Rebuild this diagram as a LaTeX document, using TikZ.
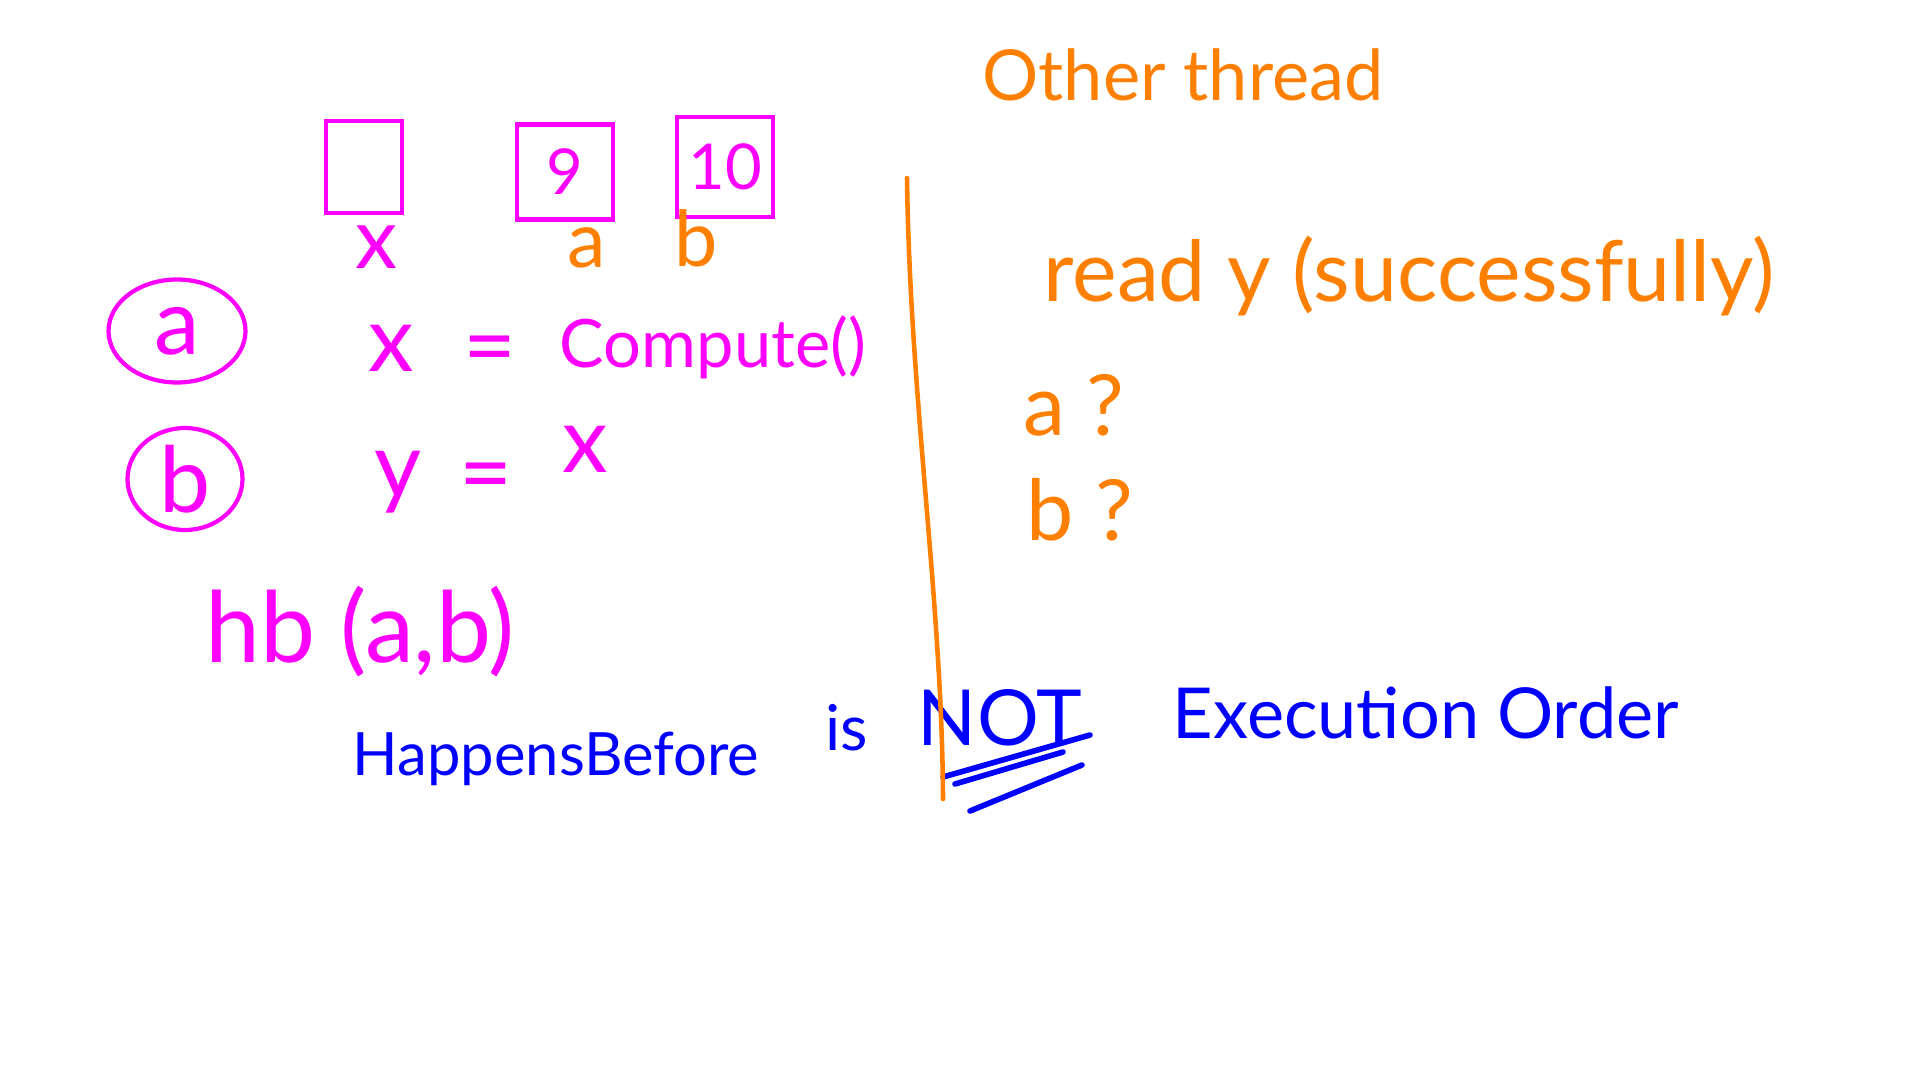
\documentclass[tikz,border=0pt]{standalone}
\usepackage{fontspec}
\setmainfont{Lato}
\usetikzlibrary{positioning, shapes.geometric}

\definecolor{inkpink}{RGB}{255,0,255}
\definecolor{inkorange}{RGB}{255,128,0}
\definecolor{inkblue}{RGB}{0,0,255}

\tikzset{
  fsize/.style={font=\fontsize{#1pt}{#1pt}\selectfont},
  pinkink/.style={text=inkpink, inner sep=0pt},
  orangeink/.style={text=inkorange, inner sep=0pt},
  blueink/.style={text=inkblue, inner sep=0pt},
  cell/.style={rectangle, draw=inkpink, text=inkpink, line width=1.2pt,
    minimum width=0.96cm, minimum height=0.95cm, inner sep=0pt, fsize=18},
  circled/.style={ellipse, draw=inkpink, text=inkpink, line width=1.2pt,
    inner sep=0pt, fsize=26},
  divider/.style={draw=inkorange, line width=1.3pt, line cap=round},
  underline/.style={draw=inkblue, line width=1.6pt, line cap=round}
}

\begin{document}
\begin{tikzpicture}[node distance=0.8cm]
  \fill[white] (0,0) rectangle (19.2,-10.8);
  \useasboundingbox (0,0) rectangle (19.2,-10.8);

  % memory cells
  \node (xbox) [cell, minimum width=0.76cm, minimum height=0.92cm] at (3.64,-1.67) {};
  \node (abox) [cell] at (5.65,-1.72) {9};
  \node (bbox) [cell, minimum height=1.0cm] at (7.25,-1.67) {10};
  \node (xlab) [pinkink, fsize=24, below of=xbox, xshift=0.12cm] {x};
  \node (alab) [orangeink, fsize=22, below of=abox, xshift=0.22cm, yshift=0.04cm] {a};
  \node (blab) [orangeink, fsize=22, below of=bbox, xshift=-0.29cm, yshift=0.09cm] {b};

  % this thread
  \node (opa) [circled, minimum width=1.37cm, minimum height=1.03cm] at (1.77,-3.31) {a};
  \node (opb) [circled, minimum width=1.15cm, minimum height=1.02cm] at (1.85,-4.79) {b};
  \node (xvar) [pinkink, fsize=26, anchor=base] at (3.91,-3.72) {x};
  \node (eqa) [pinkink, fsize=26, anchor=base] at (4.90,-3.77) {=};
  \node (compute) [pinkink, fsize=19, anchor=base] at (7.13,-3.68) {Compute()};
  \node (yvar) [pinkink, fsize=26, anchor=base] at (3.98,-4.97) {y};
  \node (eqb) [pinkink, fsize=26, anchor=base] at (4.86,-5.04) {=};
  \node (xval) [pinkink, fsize=26, anchor=base] at (5.85,-4.73) {x};
  \node (hb) [pinkink, fsize=28, anchor=base] at (3.60,-6.62) {hb (a,b)};

  % other thread
  \node (other) [orangeink, fsize=20] at (11.83,-0.75) {Other thread};
  \node (readline) [orangeink, fsize=24, anchor=base] at (14.09,-3.02) {read y (successfully)};
  \node (aq) [orangeink, fsize=24, anchor=base] at (10.74,-4.35) {a ?};
  \node (bq) [orangeink, fsize=24, anchor=base] at (10.80,-5.40) {b ?};

  % bottom line
  \node (hbtext) [blueink, fsize=17, anchor=base] at (5.56,-7.75) {HappensBefore};
  \node (is) [blueink, fsize=18, anchor=base] at (8.47,-7.50) {is};
  \node (NOT) [blueink, fsize=22, anchor=base] at (10.00,-7.45) {NOT};
  \node (exec) [blueink, fsize=20, anchor=base] at (14.26,-7.38) {Execution Order};
  \draw[underline] (9.43,-7.77) -- (10.90,-7.35);
  \draw[underline] (9.55,-7.84) -- (10.63,-7.52);
  \draw[underline] (9.70,-8.11) -- (10.82,-7.65);

  \coordinate (divtop) at (9.07,-1.78);
  \coordinate (divbot) at (9.43,-7.99);
  \draw[divider] (divtop) .. controls (9.10,-4.00) and (9.42,-6.00) .. (divbot);
\end{tikzpicture}
\end{document}
